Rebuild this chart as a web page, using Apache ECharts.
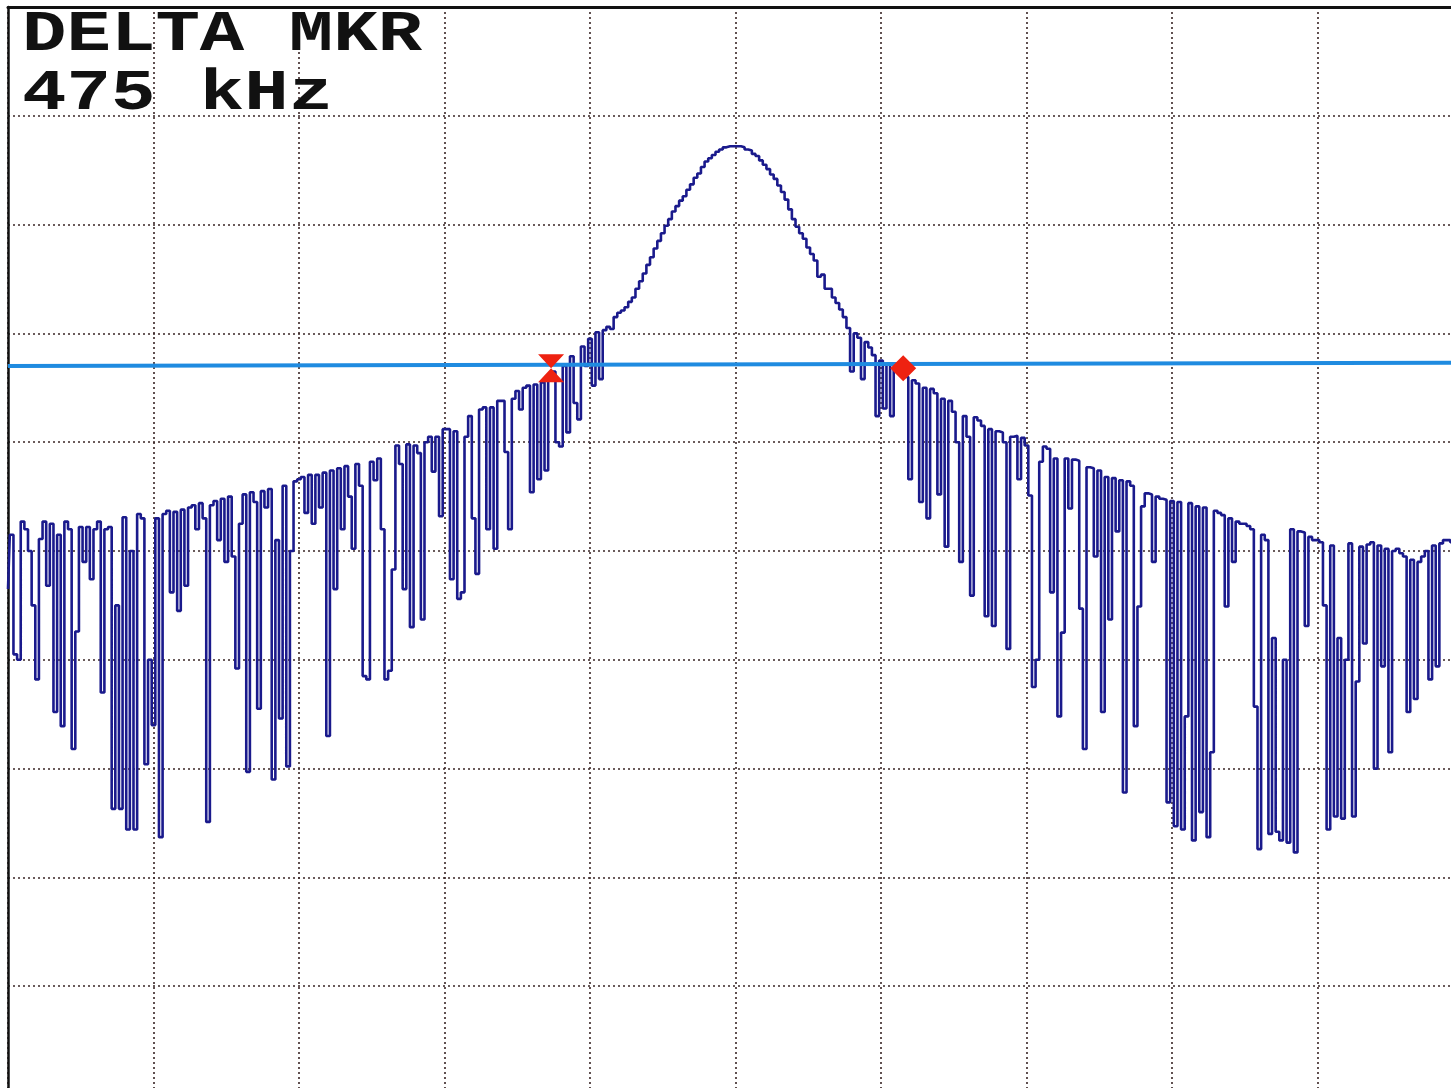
<!DOCTYPE html>
<html>
<head>
<meta charset="utf-8">
<script src="https://cdn.jsdelivr.net/npm/echarts@6.0.0/dist/echarts.min.js"></script>
<style>
html,body{margin:0;padding:0;background:#fff;}
#chart{width:1451px;height:1088px;}
</style>
</head>
<body>
<div id="chart"></div>
<script>
// Spectrum analyzer trace: 401 bins across 10 horizontal divisions, level in dB (10 dB/div, top = 0 dB)
const binsLeftA = [
  -53.5,-48.5,-59.5,-60.0,-47.3,-48.0,-50.0,-55.0,-61.8,-48.9,
  -47.3,-53.2,-47.5,-64.8,-48.5,-66.1,-47.3,-48.0,-68.2,-57.4,
  -47.8,-51.0,-47.8,-52.6,-48.0,-47.3,-63.0,-48.0,-47.8,-73.7,
  -55.0,-73.7,-46.9,-75.6,-50.0,-75.6,-46.6,-47.0,-69.6,-60.0
];
const binsLeftB = [
  -66.0,-47.0,-76.3,-46.6,-46.3,-53.8,-46.4,-55.5,-46.2,-53.2,
  -46.0,-45.8,-48.0,-45.6,-47.0,-74.9,-45.8,-45.4,-49.0,-45.2,
  -51.0,-45.0,-50.5,-60.8,-47.5,-44.8,-70.3,-44.6,-45.5,-64.5,
  -44.5,-46.0,-44.3,-71.0,-49.0,-65.4,-44.0,-69.8,-50.0,-43.6
];
const binsLeftC = [
  -43.4,-43.2,-46.5,-43.0,-47.5,-43.0,-46.0,-42.8,-67.0,-42.6,
  -53.5,-42.4,-48.0,-42.2,-45.0,-49.8,-42.0,-44.0,-61.5,-61.8,
  -41.8,-43.5,-41.5,-48.0,-61.8,-61.0,-51.7,-40.3,-42.0,-53.5,
  -40.2,-57.0,-40.3,-41.0,-56.3,-40.0,-39.5,-42.7,-39.5,-46.8
];
const binsLeftD = [
  -38.8,-38.8,-52.6,-39.0,-54.4,-53.8,-39.5,-37.6,-47.0,-52.1,
  -37.0,-36.8,-48.0,-36.8,-49.8,-36.2,-36.2,-40.9,-48.0,-36.0,
  -35.3,-37.0,-35.0,-34.8,-44.6,-34.7,-43.4,-34.5,-42.6,-34.0,
  -33.5,-40.0,-40.4,-33.0,-39.1,-32.1,-36.4,-37.9,-31.2,-33.0
];
const binsLobeLeft = [
  -30.5,-34.8,-29.9,-34.2,-29.7,-29.4,-29.6,-28.5,-28.1,-27.9,
  -27.6,-27.1,-26.7,-25.9,-25.2,-24.5,-23.7,-23.0,-22.2,-21.5,
  -20.8,-20.1,-19.5,-18.8,-18.3,-17.8,-17.4,-16.8,-16.3,-15.7,
  -15.3,-14.7,-14.2,-13.9,-13.6,-13.3,-13.1,-12.9,-12.8,-12.8,
  -12.8
];
const binsLobeRight = [
  -12.8,-12.9,-13.1,-13.2,-13.5,-13.7,-14.1,-14.5,-14.9,-15.4,
  -15.8,-16.4,-17.0,-17.7,-18.6,-19.5,-20.2,-20.8,-21.3,-22.1,
  -22.7,-23.3,-24.8,-24.6,-25.9,-25.9,-26.7,-27.2,-27.8,-28.5,
  -29.5,-33.5,-30.0,-30.4,-34.2,-30.8,-31.3,-32.0,-37.6,-32.5
];
const binsRightA = [
  -36.9,-32.8,-37.6,-33.2,-33.4,-33.5,-34.0,-43.4,-34.3,-34.6,
  -45.5,-35.0,-47.0,-35.1,-35.5,-44.8,-36.0,-49.6,-36.2,-37.2,
  -40.0,-51.0,-37.6,-39.5,-54.1,-37.7,-38.0,-38.5,-56.0,-38.8,
  -56.9,-39.0,-39.1,-40.0,-59.0,-39.5,-39.4,-43.4,-39.6,-40.3
];
const binsRightB = [
  -44.9,-62.5,-60.0,-41.8,-40.4,-40.6,-53.8,-41.5,-65.2,-57.5,
  -41.5,-46.1,-41.6,-41.7,-55.3,-68.2,-42.3,-42.4,-50.5,-42.6,
  -64.8,-43.2,-56.3,-43.3,-48.2,-43.5,-72.2,-43.6,-44.0,-66.1,
  -55.1,-45.9,-44.7,-44.8,-51.0,-45.0,-45.2,-45.3,-73.1,-45.4
];
const binsRightC = [
  -75.3,-45.5,-75.6,-65.2,-45.6,-76.6,-45.9,-74.0,-46.0,-76.3,
  -68.5,-46.3,-46.5,-46.7,-55.1,-47.0,-51.0,-47.3,-47.5,-47.5,
  -47.7,-48.0,-64.3,-77.4,-48.5,-49.0,-76.0,-58.0,-75.8,-76.6,
  -60.0,-76.8,-48.0,-77.7,-48.2,-48.3,-56.9,-48.7,-49.0,-49.0
];
const binsRightD = [
  -49.2,-55.0,-75.6,-49.5,-74.4,-58.0,-74.6,-60.0,-49.3,-74.4,
  -62.0,-49.6,-58.5,-49.4,-49.2,-70.0,-49.5,-60.6,-49.8,-68.5,
  -50.0,-49.8,-50.2,-50.5,-64.8,-50.8,-63.6,-51.0,-50.5,-50.0,
  -61.8,-49.5,-60.6,-49.3,-49.0,-49.0,-49.2,-49.5,-49.3,-49.5
];

// Display line (start bin, level) and (end bin, level)
const displayLine = [[0, -33.0], [400, -32.7]];
// Markers: [bin, level]
const markerRef = [149.3, -33.2];
const markerDelta = [246.1, -33.2];
const headerLines = ['DELTA MKR', '475 kHz'];

const trace = [].concat(binsLeftA, binsLeftB, binsLeftC, binsLeftD,
  binsLobeLeft, binsLobeRight, binsRightA, binsRightB, binsRightC, binsRightD);
const traceData = trace.map((v, i) => [i, v]);

const gridLine = {show: true, lineStyle: {color: '#3a2626', width: 1.6, type: [2, 3]}};

const chart = echarts.init(document.getElementById('chart'), null, {renderer: 'canvas'});
chart.setOption({
  animation: false,
  backgroundColor: '#ffffff',
  grid: {left: 8, top: 7, width: 1455, height: 1088, containLabel: false, outerBoundsMode: 'none'},
  xAxis: {
    type: 'value', min: 0, max: 400, interval: 40, position: 'top',
    axisLine: {show: true, onZero: false, lineStyle: {color: '#111', width: 3}},
    axisTick: {show: false}, axisLabel: {show: false},
    splitLine: gridLine
  },
  yAxis: {
    type: 'value', min: -100, max: 0, interval: 10,
    axisLine: {show: true, onZero: false, lineStyle: {color: '#111', width: 2.5}},
    axisTick: {show: false}, axisLabel: {show: false},
    splitLine: gridLine
  },
  series: [
    {
      type: 'line', data: traceData, step: 'middle', showSymbol: false, symbol: 'none',
      lineStyle: {color: '#1a1a8c', width: 2.6}, z: 2
    },
    {
      type: 'line', data: displayLine, showSymbol: false, symbol: 'none',
      lineStyle: {color: '#1f8be0', width: 4}, z: 3
    },
    {
      type: 'scatter', z: 4,
      data: [
        {value: markerRef, symbol: 'path://M0,0L24,0L12,14L24,28L0,28L12,14Z', symbolSize: [26, 28]},
        {value: markerDelta, symbol: 'diamond', symbolSize: [26, 26]}
      ],
      itemStyle: {color: '#ee2211', opacity: 1}
    }
  ],
  graphic: [
    {type: 'text', x: 22, y: 36, scaleX: 1.3, z: 10,
     style: {text: headerLines[0], font: 'bold 57px "Liberation Mono"', fill: '#111', verticalAlign: 'middle'}},
    {type: 'text', x: 22, y: 95, scaleX: 1.3, z: 10,
     style: {text: headerLines[1], font: 'bold 57px "Liberation Mono"', fill: '#111', verticalAlign: 'middle'}}
  ]
});
</script>
</body>
</html>
